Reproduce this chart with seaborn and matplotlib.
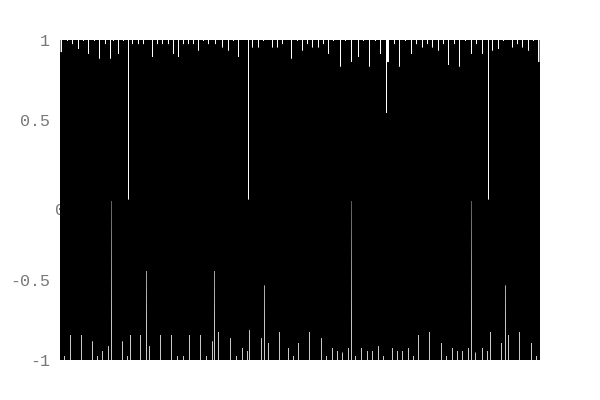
import numpy as np
import matplotlib
matplotlib.use("Agg")
import matplotlib.pyplot as plt
import seaborn as sns
import pandas as pd

#################################################
#   DATA    -------------------------------------
#################################################
# the trace swings between +1 and -1 every half pixel; only the places
# where a swing falls short (white slits) are listed
x_span = 480            # horizontal extent of the trace, in columns
swing = [1, -1]         # normal peak / trough values

# columns where a peak falls short, and the value it reaches
top_dip_x = [1, 7, 12, 18, 23, 28, 34, 39, 45, 50, 53, 58, 63, 68, 72, 78, 83,
             92, 97, 102, 108, 113, 118, 123, 128, 133, 138, 143, 148, 155,
             162, 168, 173, 178, 188, 192, 198, 203, 212, 217, 222, 231, 237,
             242, 247, 252, 258, 263, 268, 273, 280, 285, 291, 298, 303, 309,
             315, 320, 326, 328, 334, 339, 345, 351, 356, 362, 367, 372, 378,
             383, 388, 394, 399, 405, 411, 416, 422, 428, 432, 438, 443, 452,
             457, 462, 468, 473, 478]
top_dip_y = [0.92, 0.99, 0.97, 0.94, 0.99, 0.91, 0.99, 0.88, 0.97, 0.88, 0.99,
             0.91, 0.99, 0.0, 0.97, 0.97, 0.97, 0.89, 0.97, 0.97, 0.97, 0.91,
             0.89, 0.97, 0.97, 0.97, 0.93, 0.99, 0.97, 0.97, 0.95, 0.93, 0.99,
             0.89, 0.0, 0.95, 0.95, 0.99, 0.95, 0.95, 0.97, 0.88, 0.99, 0.93,
             0.97, 0.95, 0.95, 0.97, 0.91, 0.99, 0.83, 0.99, 0.86, 0.89, 0.99,
             0.83, 0.99, 0.91, 0.54, 0.86, 0.97, 0.83, 0.99, 0.91, 0.97, 0.95,
             0.97, 0.95, 0.93, 0.97, 0.84, 0.97, 0.83, 0.99, 0.91, 0.97, 0.91,
             0.0, 0.93, 0.94, 0.99, 0.95, 0.97, 0.95, 0.93, 0.99, 0.86]

# columns where a trough falls short, and the value it reaches
bot_dip_x = [4, 10, 21, 32, 37, 42, 48, 51, 62, 67, 70, 80, 86, 89, 100, 111,
             117, 123, 129, 140, 146, 152, 154, 158, 170, 176, 182, 187, 189,
             201, 204, 208, 219, 228, 233, 238, 249, 261, 266, 272, 277, 282,
             288, 291, 295, 301, 307, 312, 318, 323, 332, 337, 342, 348, 353,
             358, 369, 381, 386, 392, 397, 402, 408, 411, 415, 422, 427, 430,
             441, 445, 448, 459, 471, 476]
bot_dip_y = [-0.97, -0.84, -0.84, -0.88, -0.97, -0.94, -0.91, 0.0, -0.88,
             -0.97, -0.84, -0.84, -0.44, -0.91, -0.84, -0.84, -0.97, -0.97,
             -0.84, -0.84, -0.97, -0.88, -0.44, -0.82, -0.86, -0.97, -0.92,
             -0.94, -0.81, -0.86, -0.53, -0.89, -0.82, -0.92, -0.97, -0.89,
             -0.82, -0.86, -0.97, -0.92, -0.94, -0.95, -0.92, 0.0, -0.97,
             -0.92, -0.94, -0.94, -0.91, -0.97, -0.92, -0.94, -0.94, -0.92,
             -0.97, -0.84, -0.82, -0.89, -0.97, -0.92, -0.94, -0.94, -0.92,
             0.0, -0.95, -0.92, -0.94, -0.82, -0.89, -0.53, -0.84, -0.82,
             -0.89, -0.97]

y_ticks = [1, 0.5, 0, -0.5, -1]
y_tick_labels = ["1", "0.5", "", "-0.5", "-1"]

#################################################
#   BUILD TRACE    ------------------------------
#################################################
n = 2 * x_span + 1
xs = np.arange(n) / 2.0
ys = np.resize(np.array(swing, dtype=float), n)
# a short peak lowers the two peaks around the slit so it lands on a
# pixel centre (peaks sit on pixel edges)
top_idx = np.array(top_dip_x) * 2
ys[top_idx] = top_dip_y
ys[np.minimum(top_idx + 2, n - 1)] = np.minimum(ys[np.minimum(top_idx + 2, n - 1)], top_dip_y)
ys[np.array(bot_dip_x) * 2 + 1] = bot_dip_y

df = pd.DataFrame({"x": xs, "y": ys})

#################################################
#   PLOT    -------------------------------------
#################################################
sns.set_style("white")
plt.rcParams["font.family"] = ["Liberation Mono", "DejaVu Sans Mono"]
plt.rcParams["path.simplify"] = False   # keep every swing of the trace

fig = plt.figure(figsize=(6, 4), dpi=100)
ax = fig.add_axes([0.1, 0.1, 0.8, 0.8])

sns.lineplot(data=df, x="x", y="y", ax=ax, color="black", lw=0.8,
             estimator=None, sort=False, zorder=2)

ax.set_xlim(0, x_span)
ax.set_ylim(-1, 1)
ax.set_xticks([])
ax.set_yticks(y_ticks)
ax.set_yticklabels(y_tick_labels)
ax.tick_params(axis="y", length=0, pad=7, labelcolor="#777777", labelsize=12)
ax.set_xlabel("")
ax.set_ylabel("")
for s in ax.spines.values():
    s.set_visible(False)

# origin label sits under the trace
ax.text(0, -0.065, "0", ha="center", va="center", color="#777777",
        fontsize=12, zorder=1, clip_on=False)

fig.savefig("out.png", dpi=100)
